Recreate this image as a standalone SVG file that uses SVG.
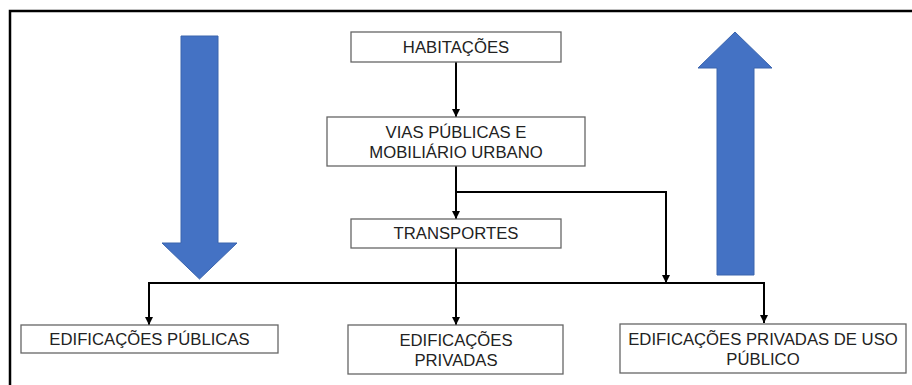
<svg xmlns="http://www.w3.org/2000/svg" width="912" height="385" viewBox="0 0 912 385">
<style>
.box{fill:#fff;stroke:#666;stroke-width:1.3}
.lbl{font-family:"Liberation Sans",Arial,sans-serif;font-size:16.7px;fill:#222;text-anchor:middle}
.con{fill:none;stroke:#000;stroke-width:2}
.big{fill:#4472C4;stroke:#3a64ad;stroke-width:1}
</style>
<defs>
<marker id="ah" viewBox="0 0 8 8" refX="8" refY="4" markerWidth="4" markerHeight="4" markerUnits="strokeWidth" orient="auto">
<path d="M0,0 L8,4 L0,8 Z" fill="#000"/>
</marker>
</defs>
<rect x="0" y="0" width="912" height="385" fill="#fff"/>
<path d="M10,385 L10,11 L912,11" fill="none" stroke="#000" stroke-width="2.5"/>
<g id="arrow-down"><polygon class="big" points="181,36 218,36 218,243 237,243 199.5,279 162,243 181,243"/></g>
<g id="arrow-up"><polygon class="big" points="735,32 772,68 754,68 754,275 717,275 717,68 698,68"/></g>
<g id="connectors">
<line class="con" x1="456" y1="62" x2="456" y2="117" marker-end="url(#ah)"/>
<line class="con" x1="456" y1="166" x2="456" y2="219" marker-end="url(#ah)"/>
<polyline class="con" points="456,192 666,192 666,283" marker-end="url(#ah)"/>
<line class="con" x1="456" y1="248" x2="456" y2="325" marker-end="url(#ah)"/>
<polyline class="con" points="149,325 149,283 764,283 764,323" marker-end="url(#ah)"/>
<line class="con" x1="149" y1="320" x2="149" y2="325" marker-end="url(#ah)"/>
</g>
<g id="habitacoes"><rect class="box" x="351" y="32" width="210" height="30"/><text class="lbl" x="456" y="53">HABITAÇÕES</text></g>
<g id="vias"><rect class="box" x="327" y="117" width="258" height="49"/><text class="lbl" x="456" y="138">VIAS PÚBLICAS E</text><text class="lbl" x="456" y="158">MOBILIÁRIO URBANO</text></g>
<g id="transportes"><rect class="box" x="351" y="219" width="210" height="29"/><text class="lbl" x="456" y="239">TRANSPORTES</text></g>
<g id="edif-publicas"><rect class="box" x="21" y="325" width="257" height="28"/><text class="lbl" x="149.5" y="345">EDIFICAÇÕES PÚBLICAS</text></g>
<g id="edif-privadas"><rect class="box" x="348" y="325" width="215" height="49"/><text class="lbl" x="456" y="346">EDIFICAÇÕES</text><text class="lbl" x="456" y="366">PRIVADAS</text></g>
<g id="edif-privadas-uso"><rect class="box" x="620" y="324" width="286" height="49"/><text class="lbl" x="763" y="345">EDIFICAÇÕES PRIVADAS DE USO</text><text class="lbl" x="763" y="365">PÚBLICO</text></g>
</svg>
